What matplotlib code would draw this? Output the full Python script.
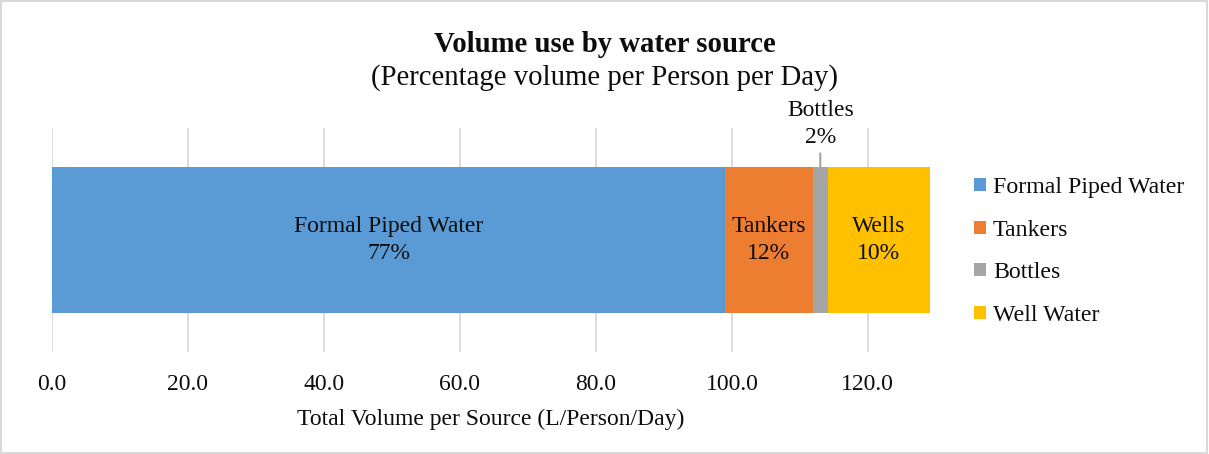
import matplotlib.pyplot as plt
from matplotlib.patches import Patch, Rectangle

# ==========================================
# DATA
# ==========================================
sources = ['Formal Piped Water', 'Tankers', 'Bottles', 'Well Water']
segment_names = ['Formal Piped Water', 'Tankers', 'Bottles', 'Wells']
volumes = [99.0, 12.9, 2.2, 15.0]   # L/Person/Day
shares = ['77%', '12%', '2%', '10%']
colors = ['#5B9BD5', '#ED7D31', '#A5A5A5', '#FFC000']
x_ticks = [0, 20, 40, 60, 80, 100, 120]

# ==========================================
# PLOT
# ==========================================
plt.rcParams['font.family'] = ['Liberation Serif', 'DejaVu Serif']

fig = plt.figure(figsize=(12.09, 4.54), dpi=100)
ax = fig.add_axes([0.043, 0.2247, 0.726, 0.4933])

left = 0
for name, vol, share, col in zip(segment_names, volumes, shares, colors):
    ax.barh(0, vol, left=left, height=0.652, color=col, zorder=2)
    centre = left + vol / 2
    if vol > 5:
        ax.text(centre, 0, f'{name}\n{share}', ha='center', va='center',
                fontsize=17, color='#0d0d0d', linespacing=1.4, zorder=3)
    else:
        # small slice -> label sits above the bar with a leader line
        ax.annotate(f'{name}\n{share}', xy=(centre, 0.326), xytext=(0, 31),
                    textcoords='offset points', ha='center', va='center',
                    fontsize=17, color='#0d0d0d', linespacing=1.35,
                    arrowprops=dict(arrowstyle='-', color='#a6a6a6', lw=1.5,
                                    shrinkA=2, shrinkB=0))
    left += vol

ax.set_xlim(0, left)
ax.set_ylim(-0.5, 0.5)
ax.set_xticks(x_ticks)
ax.set_xticklabels([f'{t:.1f}' for t in x_ticks], fontsize=17, color='#0d0d0d')
ax.set_yticks([])
ax.tick_params(axis='x', length=0, pad=16)
ax.grid(axis='x', color='#d9d9d9', lw=1.3, zorder=0)
for s in ax.spines.values():
    s.set_visible(False)
ax.set_xlabel('Total Volume per Source (L/Person/Day)', fontsize=17,
              color='#0d0d0d', labelpad=10)

# titles
fig.text(0.5, 1 - 52 / 454, 'Volume use by water source', ha='center',
         va='baseline', fontsize=20.7, fontweight='bold', color='#0d0d0d')
fig.text(0.5, 1 - 85 / 454, '(Percentage volume per Person per Day)',
         ha='center', va='baseline', fontsize=20.7, color='#0d0d0d')

# legend
handles = [Patch(facecolor=c, edgecolor='none') for c in colors]
fig.legend(handles, sources, loc='center left', bbox_to_anchor=(0.806, 0.446),
           frameon=False, fontsize=17.2, handlelength=0.47, handleheight=0.47,
           handletextpad=0.3, labelspacing=0.9, borderpad=0, borderaxespad=0,
           labelcolor='#0d0d0d')

# chart border
fig.patches.append(Rectangle((0.001, 0.002), 0.997, 0.996, transform=fig.transFigure,
                             fill=False, edgecolor='#d9d9d9', lw=1.5))

fig.savefig('out.png', dpi=100)
